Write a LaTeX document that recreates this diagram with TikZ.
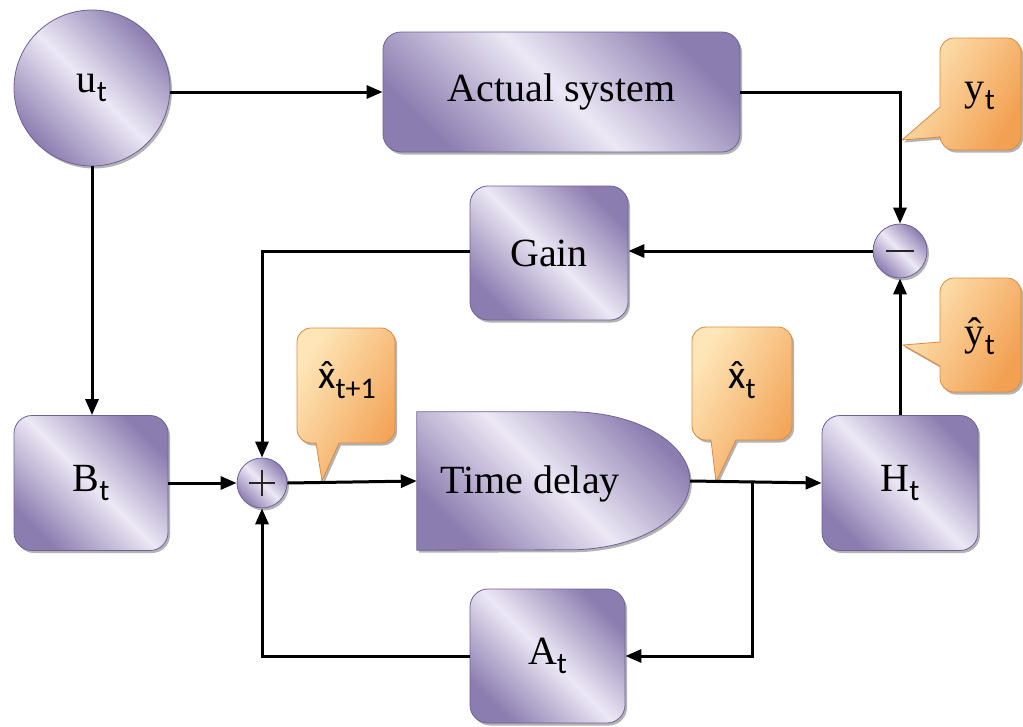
\documentclass[tikz,border=0pt]{standalone}
\usepackage{fontspec}
\setmainfont{Liberation Serif}
\newfontfamily\subfont{Carlito}
\usetikzlibrary{arrows.meta,shadows}

\definecolor{lavDark}{HTML}{8C7DB0}
\definecolor{lavLight}{HTML}{ECE8F5}
\definecolor{lavEdge}{HTML}{6F6194}
\definecolor{orgDark}{HTML}{F2A052}
\definecolor{orgLight}{HTML}{FEE6B8}
\definecolor{orgEdge}{HTML}{DE8A3E}

% letter with a sans subscript
\newcommand\lbl[2]{#1\raisebox{-0.23em}{\subfont\fontsize{30}{30}\selectfont #2}}
% sans x with a circumflex set over it
\newcommand\hatx{{\subfont\ooalign{x\cr\hidewidth\raisebox{0.02em}{\char"02C6}\hidewidth\cr}}}

\tikzset{
  purplefill/.style={left color=lavDark, right color=lavDark, middle color=lavLight, shading angle=135},
  orangefill/.style={left color=orgLight, right color=orgDark, shading angle=60},
  softshadow/.style={drop shadow={shadow xshift=2pt, shadow yshift=-2.5pt, fill=black!50, opacity=0.6}},
  block/.style={draw=lavEdge, line width=0.8pt, rounded corners=18pt, purplefill, softshadow,
    font=\fontsize{40}{48}\selectfont, inner sep=0pt},
  disc/.style={circle, draw=lavEdge, line width=0.8pt, purplefill, softshadow,
    font=\fontsize{40}{48}\selectfont, inner sep=0pt},
  sumnode/.style={circle, draw=lavEdge, line width=0.8pt, purplefill, softshadow, inner sep=0pt},
  tipshape/.style={draw=orgEdge, line width=0.8pt, orangefill, softshadow},
  tiptext/.style={font=\fontsize{40}{48}\selectfont, inner sep=0pt},
  conn/.style={line width=3pt, -{Triangle[length=16pt,width=13pt]}},
  signline/.style={line width=1.8pt, black!85}
}

\begin{document}
\begin{tikzpicture}[x=1pt,y=-1pt]
\useasboundingbox (0,0) rectangle (1023,726);

% blocks
\node[disc, minimum size=156pt] (u) at (92,88) {\lbl{u}{t}};
\node[block, minimum width=357pt, minimum height=120pt] (act) at (561.5,92) {Actual system};
\node[block, minimum width=158pt, minimum height=134pt] (gain) at (549,253) {Gain};
\node[block, minimum width=154pt, minimum height=135pt] (B) at (91,483) {\lbl{B}{t}};
\node[block, minimum width=156pt, minimum height=135pt] (H) at (900,483) {\lbl{H}{t}};
\node[block, minimum width=155pt, minimum height=134pt] (A) at (547.5,656) {\lbl{A}{t}};

% time delay block: straight left part with an elliptical right end
\node[minimum width=273pt, minimum height=138pt, inner sep=0pt] (delay) at (553.5,481) {};
\path[draw=lavEdge, line width=0.8pt, purplefill, softshadow]
  (delay.north west) -- ++(153pt,0pt) arc[start angle=90, end angle=-90, x radius=120pt, y radius=69pt]
  -- (delay.south west) -- cycle;
\node[tiptext] (delaytext) at (530,484) {Time delay};

% summing junctions
\node[sumnode, minimum size=50pt] (plus) at (262,483) {};
\draw[signline] ([xshift=-13pt]plus.center) -- ([xshift=13pt]plus.center);
\draw[signline] ([yshift=-13pt]plus.center) -- ([yshift=13pt]plus.center);
\node[sumnode, minimum size=54pt] (minus) at (900,251) {};
\draw[signline] ([xshift=-14pt]minus.center) -- ([xshift=14pt]minus.center);

% callouts
\path[tipshape] (902,140) -- (940,107) [rounded corners=14pt] -- (940,38) -- (1021,38) -- (1021,150) -- (940,150) [sharp corners] -- (940,137) -- cycle;
\node[tiptext] (ytext) at (980,96) {\lbl{y}{t}};

\path[tipshape] (903,345) -- (940,342) [rounded corners=14pt] -- (940,278) -- (1021,278) -- (1021,392) -- (940,392) [sharp corners] -- (940,366) -- cycle;
\node[tiptext] (yhattext) at (980,336) {\lbl{\^{y}}{t}};

\path[tipshape] (322,481) -- (316,443) [rounded corners=14pt] -- (297,443) -- (297,328) -- (395,328) -- (395,443) [sharp corners] -- (339,443) -- cycle;
\node[tiptext] (xnexttext) at (347,384) {\lbl{\hatx}{t+1}};

\path[tipshape] (716,482) -- (711,440) [rounded corners=14pt] -- (692,440) -- (692,327) -- (792,327) -- (792,440) [sharp corners] -- (736,440) -- cycle;
\node[tiptext] (xtext) at (742,384) {\lbl{\hatx}{t}};

% connectors
\coordinate (branch) at (752,483);
\draw[conn] (u.east |- act.west) -- (act.west);
\draw[conn] (u.south) -- (u.south |- B.north);
\draw[conn] (act.east) -| (minus.north);
\draw[conn] (H.north) -- (minus.south);
\draw[conn] (minus.west) -- (minus.west -| gain.east);
\draw[conn] (gain.west |- minus.west) -| (plus.north);
\draw[conn] (B.east) -- (plus.west);
\draw[conn] (plus.east) -- (delay.west);
\draw[conn] (delay.east) -- (H.west);
\draw[conn] (branch) |- (A.east);
\draw[conn] (A.west) -| (plus.south);
\end{tikzpicture}
\end{document}
